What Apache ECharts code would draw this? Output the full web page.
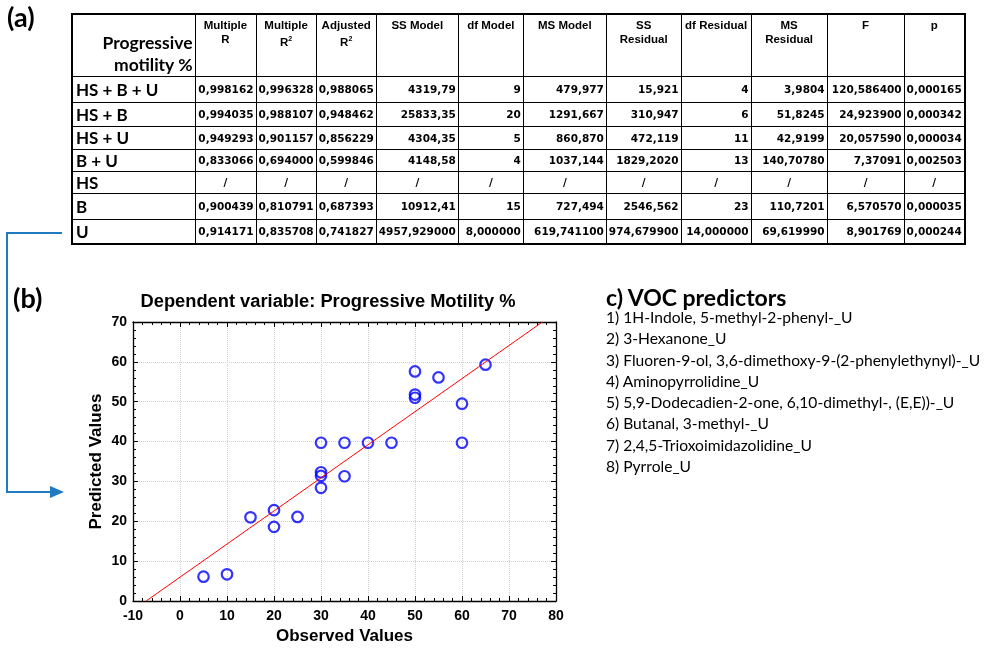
<!DOCTYPE html>
<html>
<head>
<meta charset="utf-8">
<script src="https://cdn.jsdelivr.net/npm/echarts@6/dist/echarts.min.js"></script>
<style>
  html, body { margin: 0; padding: 0; background: #fff; }
  #wrap { position: relative; width: 995px; height: 651px; overflow: hidden; }
  #demo { position: absolute; left: 0; top: 0; width: 995px; height: 651px; }
  .lbl { position: absolute; font-family: Lato, "Open Sans", sans-serif; font-weight: bold; font-size: 27px; color: #000; }
  #tbl { position: absolute; left: 71px; top: 13px; border-collapse: collapse; table-layout: fixed;
         border: 2px solid #000; font-family: "DejaVu Sans", sans-serif; font-weight: bold; font-size: 10.5px; color: #000; }
  #tbl td, #tbl th { border: 1px solid #000; padding: 0 2px; white-space: nowrap; overflow: hidden; }
  #tbl th { vertical-align: top; text-align: center; line-height: 14px; padding-top: 3px; font-weight: bold;
            font-family: "Liberation Sans", Arial, sans-serif; font-size: 11.5px; }
  #tbl th.corner { text-align: right; vertical-align: bottom; line-height: 22px; padding: 0 2px 0 0;
                   font-family: Lato, sans-serif; font-size: 17.5px; }
  #tbl td { text-align: right; }
  #tbl td.rl { text-align: left; font-family: Lato, sans-serif; font-size: 17px; padding-left: 3px; }
  #tbl td.na { text-align: center; }
  #tbl sup { font-size: 7px; vertical-align: 5px; }
  #voc { position: absolute; left: 606px; top: 284px; font-family: Lato, sans-serif; color: #000; }
  #voc .h { font-weight: bold; font-size: 23px; line-height: 26px; margin-bottom: -3px; }
  #voc .it { font-size: 15.6px; line-height: 21.3px; }
</style>
</head>
<body>
<div id="wrap">
  <div id="demo"></div>
  <div class="lbl" style="left:7px;top:0px;">(a)</div>
  <div class="lbl" style="left:13px;top:281px;">(b)</div>
  <table id="tbl"></table>
  <div id="voc"></div>
</div>
<script>
// (a) regression summary table
var colHeaders = ['Multiple<br>R', 'Multiple<br>R<sup>2</sup>', 'Adjusted<br>R<sup>2</sup>', 'SS Model', 'df Model',
    'MS Model', 'SS<br>Residual', 'df Residual', 'MS<br>Residual', 'F', 'p'];
var colWidths = [123, 61, 60, 58, 80, 65, 83, 71, 70, 76, 77, 60];
var rowLabels = ['HS + B + U', 'HS + B', 'HS + U', 'B + U', 'HS', 'B', 'U'];
var rowHeights = [26, 24, 23, 22, 22, 26, 25];
var rowHSBU = ['0,998162', '0,996328', '0,988065', '4319,79', '9', '479,977', '15,921', '4', '3,9804', '120,586400', '0,000165'];
var rowHSB = ['0,994035', '0,988107', '0,948462', '25833,35', '20', '1291,667', '310,947', '6', '51,8245', '24,923900', '0,000342'];
var rowHSU = ['0,949293', '0,901157', '0,856229', '4304,35', '5', '860,870', '472,119', '11', '42,9199', '20,057590', '0,000034'];
var rowBU = ['0,833066', '0,694000', '0,599846', '4148,58', '4', '1037,144', '1829,2020', '13', '140,70780', '7,37091', '0,002503'];
var rowHS = ['/', '/', '/', '/', '/', '/', '/', '/', '/', '/', '/'];
var rowB = ['0,900439', '0,810791', '0,687393', '10912,41', '15', '727,494', '2546,562', '23', '110,7201', '6,570570', '0,000035'];
var rowU = ['0,914171', '0,835708', '0,741827', '4957,929000', '8,000000', '619,741100', '974,679900', '14,000000', '69,619990', '8,901769', '0,000244'];

// (b) observed vs predicted
var observed = [5, 10, 15, 20, 20, 25, 30, 30, 30, 30, 35, 35, 40, 45, 50, 50, 50, 55, 60, 60, 65];
var predicted = [6.1, 6.7, 21.0, 22.8, 18.6, 21.1, 39.7, 32.3, 31.4, 28.4, 39.7, 31.3, 39.7, 39.7, 57.6, 51.8, 51.0, 56.1, 49.5, 39.7, 59.3];
var fitLine = [[-7.2, 0], [77.1, 70]];

// (c) predictors
var vocTitle = 'c) VOC predictors';
var vocPredictors = ['1) 1H-Indole, 5-methyl-2-phenyl-_U', '2) 3-Hexanone_U',
    '3) Fluoren-9-ol, 3,6-dimethoxy-9-(2-phenylethynyl)-_U', '4) Aminopyrrolidine_U',
    '5) 5,9-Dodecadien-2-one, 6,10-dimethyl-, (E,E))-_U', '6) Butanal, 3-methyl-_U',
    '7) 2,4,5-Trioxoimidazolidine_U', '8) Pyrrole_U'];

window.onload = function() {
    // table
    var rows = [rowHSBU, rowHSB, rowHSU, rowBU, rowHS, rowB, rowU];
    var html = '<colgroup>';
    colWidths.forEach(function(w) { html += '<col style="width:' + w + 'px">'; });
    html += '</colgroup><tr style="height:62px"><th class="corner">Progressive<br>motility %</th>';
    colHeaders.forEach(function(h) { html += '<th>' + h + '</th>'; });
    html += '</tr>';
    rows.forEach(function(r, i) {
        html += '<tr style="height:' + rowHeights[i] + 'px"><td class="rl">' + rowLabels[i] + '</td>';
        r.forEach(function(v) { html += '<td' + (v === '/' ? ' class="na"' : '') + '>' + v + '</td>'; });
        html += '</tr>';
    });
    document.getElementById('tbl').innerHTML = html;

    var voc = '<div class="h">' + vocTitle + '</div>';
    vocPredictors.forEach(function(s) { voc += '<div class="it">' + s + '</div>'; });
    document.getElementById('voc').innerHTML = voc;

    var pts = observed.map(function(x, i) { return [x, predicted[i]]; });
    var labelFont = { fontFamily: '"Liberation Sans", Arial', fontWeight: 'bold', fontSize: 14, color: '#000' };
    var nameFont = { fontFamily: '"Liberation Sans", Arial', fontWeight: 'bold', fontSize: 17, color: '#000' };
    var frameAxis = {
        axisLine: { show: true, onZero: false, lineStyle: { color: '#000', width: 1.3 } },
        axisTick: { show: true, inside: true, length: 5, lineStyle: { color: '#000' } },
        minorTick: { show: true, splitNumber: 5, length: 3, lineStyle: { color: '#000' } }
    };
    var myChart = echarts.init(document.getElementById('demo'));
    var option = {
        animation: false,
        grid: { left: 133, top: 322, width: 423, height: 279, show: false },
        graphic: [
            { type: 'text', x: 328, y: 302, style: { text: 'Dependent variable: Progressive Motility %',
                font: 'bold 18.3px "Liberation Sans", Arial', fill: '#000', textAlign: 'center', textVerticalAlign: 'middle' } },
            { type: 'polyline', shape: { points: [[62, 233], [7, 233], [7, 492], [52, 492]] },
                style: { stroke: '#1f7ac0', lineWidth: 2, fill: null } },
            { type: 'polygon', shape: { points: [[50, 486], [64, 492], [50, 498]] }, style: { fill: '#1f7ac0' } }
        ],
        xAxis: [
            Object.assign({ type: 'value', min: -10, max: 80, interval: 10, position: 'bottom',
                name: 'Observed Values', nameLocation: 'middle', nameGap: 27, nameTextStyle: nameFont,
                axisLabel: Object.assign({ margin: 8 }, labelFont),
                splitLine: { show: true, lineStyle: { color: '#cfcfcf', type: 'dotted' } } }, frameAxis),
            Object.assign({ type: 'value', min: -10, max: 80, interval: 10, position: 'top',
                axisLabel: { show: false }, splitLine: { show: false } }, frameAxis)
        ],
        yAxis: [
            Object.assign({ type: 'value', min: 0, max: 70, interval: 10, position: 'left',
                name: 'Predicted Values', nameLocation: 'middle', nameGap: 28, nameTextStyle: nameFont,
                axisLabel: Object.assign({ margin: 6 }, labelFont),
                splitLine: { show: true, lineStyle: { color: '#cfcfcf', type: 'dotted' } } }, frameAxis),
            Object.assign({ type: 'value', min: 0, max: 70, interval: 10, position: 'right',
                axisLabel: { show: false }, splitLine: { show: false } }, frameAxis)
        ],
        series: [{
            type: 'line',
            data: fitLine,
            symbol: 'none',
            lineStyle: { color: '#ff0000', width: 1 },
            silent: true
        }, {
            type: 'scatter',
            data: pts,
            symbol: 'circle',
            symbolSize: 10.5,
            itemStyle: { color: 'rgba(255,255,255,0)', borderColor: '#0000ff', borderWidth: 2.2 }
        }]
    };
    myChart.setOption(option);
    window.onresize = function() {
        myChart.resize();
    };
};
</script>
</body>
</html>
